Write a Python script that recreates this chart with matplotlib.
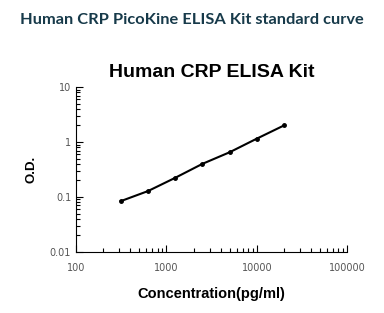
import matplotlib
matplotlib.use("Agg")
import matplotlib.pyplot as plt
from matplotlib.ticker import LogLocator, FixedFormatter, FixedLocator

# standard curve values
conc = [312.5, 625, 1250, 2500, 5000, 10000, 20000]
od = [0.084, 0.128, 0.223, 0.40, 0.65, 1.15, 2.0]
xticks = [100, 1000, 10000, 100000]
xlabels = ['100', '1000', '10000', '100000']
yticks = [0.01, 0.1, 1, 10]
ylabels = ['0.01', '0.1', '1', '10']

fig = plt.figure(figsize=(3.84, 3.13), dpi=100)
fig.text(0.5, 0.935, 'Human CRP PicoKine ELISA Kit standard curve',
         ha='center', va='center', fontsize=11.8, fontweight='bold',
         family='Lato', color='#173a4a')

ax = fig.add_axes([0.198, 0.195, 0.706, 0.527])
ax.plot(conc, od, color='black', lw=1.5, marker='o', ms=2.5)
ax.set_xscale('log')
ax.set_yscale('log')
ax.set_xlim(100, 100000)
ax.set_ylim(0.01, 10)

ax.xaxis.set_major_locator(FixedLocator(xticks))
ax.xaxis.set_major_formatter(FixedFormatter(xlabels))
ax.yaxis.set_major_locator(FixedLocator(yticks))
ax.yaxis.set_major_formatter(FixedFormatter(ylabels))
ax.xaxis.set_minor_locator(LogLocator(base=10, subs=range(2, 10)))
ax.yaxis.set_minor_locator(LogLocator(base=10, subs=range(2, 10)))
ax.xaxis.set_minor_formatter(plt.NullFormatter())
ax.yaxis.set_minor_formatter(plt.NullFormatter())

ax.tick_params(which='both', direction='in', labelsize=7, labelcolor='#555555',
               width=0.8)
ax.tick_params(which='major', length=5)
ax.tick_params(which='minor', length=3)
ax.tick_params(axis='x', pad=8)
ax.spines['top'].set_visible(False)
ax.spines['right'].set_visible(False)

ax.set_title('Human CRP ELISA Kit', fontsize=14, fontweight='bold',
             family='Liberation Sans', pad=7)
ax.set_xlabel('Concentration(pg/ml)', fontsize=10.5, fontweight='bold',
              family='Liberation Sans', labelpad=10)
ax.set_ylabel('O.D.', fontsize=9.5, fontweight='bold',
              family='Liberation Sans', labelpad=9)

fig.savefig('out.png', dpi=100)
